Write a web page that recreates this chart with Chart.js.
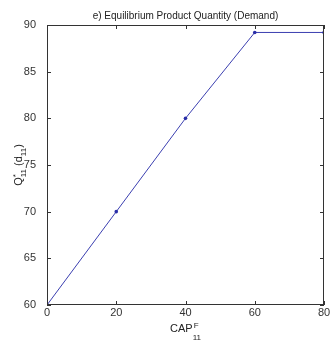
<!DOCTYPE html>
<html>
<head>
<meta charset="utf-8">
<script src="https://cdn.jsdelivr.net/npm/chart.js@4/dist/chart.umd.min.js"></script>
<style>
  html, body { margin: 0; padding: 0; background: #fff; }
  #wrap { width: 332px; height: 341px; position: relative; }
</style>
</head>
<body>
<div id="wrap"><canvas id="eqChart"></canvas></div>
<script>
const capValues = [0, 20, 40, 60, 80];
const quantityValues = [60, 70, 80, 89.2, 89.2];
const xTicks = [0, 20, 40, 60, 80];
const yTicks = [60, 65, 70, 75, 80, 85, 90];
const chartTitle = 'e) Equilibrium Product Quantity (Demand)';

const FONT = 'Arial, "Liberation Sans", sans-serif';

// box, inward ticks on all four sides, and the axis titles with sub/superscripts
const matlabAxes = {
    id: 'matlabAxes',
    afterDraw(chart) {
        const { ctx, chartArea: a, scales } = chart;
        ctx.save();
        ctx.strokeStyle = '#333';
        ctx.lineWidth = 1;
        ctx.strokeRect(a.left + 0.5, a.top + 0.5, a.right - a.left - 1, a.bottom - a.top - 1);
        const len = 4;
        ctx.beginPath();
        xTicks.forEach(v => {
            const x = Math.round(scales.x.getPixelForValue(v)) + 0.5;
            ctx.moveTo(x, a.bottom); ctx.lineTo(x, a.bottom - len);
            ctx.moveTo(x, a.top); ctx.lineTo(x, a.top + len);
        });
        yTicks.forEach(v => {
            const y = Math.round(scales.y.getPixelForValue(v)) + 0.5;
            ctx.moveTo(a.left, y); ctx.lineTo(a.left + len, y);
            ctx.moveTo(a.right, y); ctx.lineTo(a.right - len, y);
        });
        ctx.stroke();

        ctx.fillStyle = '#222';
        // title
        ctx.font = '10px ' + FONT;
        ctx.textAlign = 'center';
        ctx.textBaseline = 'alphabetic';
        ctx.fillText(chartTitle, (a.left + a.right) / 2, 19);

        // x label: CAP^F_11
        const cx = (a.left + a.right) / 2;
        ctx.font = '11px ' + FONT;
        ctx.textAlign = 'left';
        const base = 'CAP';
        const bw = ctx.measureText(base).width;
        ctx.font = '8px ' + FONT;
        const sw = ctx.measureText('11').width;
        const x0 = cx - (bw + sw) / 2;
        ctx.font = '11px ' + FONT;
        ctx.fillText(base, x0, 332);
        ctx.font = '8px ' + FONT;
        ctx.fillText('F', x0 + bw + 1, 328);
        ctx.fillText('11', x0 + bw, 340);

        // y label: Q*_11 (d_11)
        ctx.translate(18, (a.top + a.bottom) / 2);
        ctx.rotate(-Math.PI / 2);
        const parts = [
            { t: 'Q', s: 11, dy: 0 },
            { t: '*', s: 8, dy: -4, overlay: true },
            { t: '11', s: 8, dy: 4 },
            { t: ' (d', s: 11, dy: 0 },
            { t: '11', s: 8, dy: 4 },
            { t: ')', s: 11, dy: 0 }
        ];
        let total = 0;
        const widths = parts.map(p => {
            ctx.font = p.s + 'px ' + FONT;
            const w = ctx.measureText(p.t).width;
            if (!p.overlay) total += w;
            return w;
        });
        let px = -total / 2;
        parts.forEach((p, i) => {
            ctx.font = p.s + 'px ' + FONT;
            ctx.fillText(p.t, px, 4 + p.dy);
            if (!p.overlay) px += widths[i];
        });
        ctx.restore();
    }
};

new Chart(document.getElementById('eqChart'), {
    type: 'scatter',
    data: {
        datasets: [{
            data: capValues.map((x, i) => ({ x: x, y: quantityValues[i] })),
            showLine: true,
            borderColor: '#3b3fb0',
            backgroundColor: '#2a2ea8',
            borderWidth: 1,
            pointRadius: 1.8,
            pointBorderWidth: 0,
            tension: 0
        }]
    },
    options: {
        responsive: true,
        maintainAspectRatio: false,
        animation: false,
        layout: { padding: { top: 25, right: 8, left: 0, bottom: 0 } },
        plugins: {
            legend: { display: false },
            tooltip: { enabled: false },
            title: { display: false }
        },
        scales: {
            x: {
                type: 'linear',
                min: 0, max: 80,
                afterBuildTicks: (s) => { s.ticks = xTicks.map(v => ({ value: v })); },
                afterFit: (s) => { s.height = 36; },
                grid: { display: false },
                border: { display: false },
                ticks: { color: '#333', font: { family: FONT, size: 11 }, padding: -7, maxRotation: 0 }
            },
            y: {
                type: 'linear',
                min: 60, max: 90,
                afterBuildTicks: (s) => { s.ticks = yTicks.map(v => ({ value: v })); },
                afterFit: (s) => { s.width = 47; },
                grid: { display: false },
                border: { display: false },
                ticks: { color: '#333', font: { family: FONT, size: 11 }, padding: 3 }
            }
        }
    },
    plugins: [matlabAxes]
});
</script>
</body>
</html>
